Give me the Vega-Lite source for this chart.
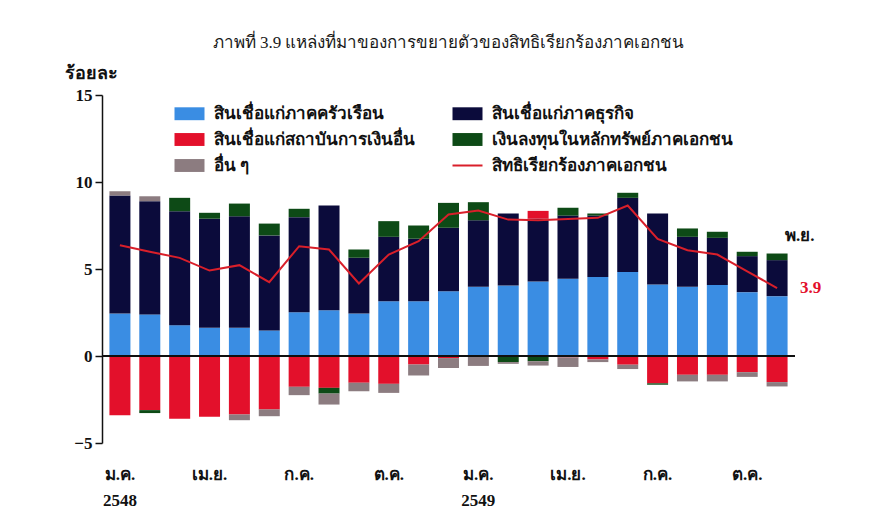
{
  "$schema": "https://vega.github.io/schema/vega-lite/v6.json",
  "width": 693,
  "height": 348,
  "autosize": "none",
  "padding": {"left": 102, "top": 95, "right": 75, "bottom": 85},
  "background": "white",
  "title": {
    "text": "ภาพที่ 3.9  แหล่งที่มาของการขยายตัวของสิทธิเรียกร้องภาคเอกชน",
    "fontSize": 17,
    "fontWeight": "normal",
    "font": "Liberation Serif",
    "color": "#1a1a1a",
    "anchor": "middle",
    "frame": "group",
    "offset": 12
  },
  "config": {"view": {"stroke": null}},
  "data": {
    "values": [
      {"month": "2548-01", "hh": 2.44, "biz": 6.78, "fi": -3.40, "sec": 0, "oth": 0.25, "claims": 6.37},
      {"month": "2548-02", "hh": 2.39, "biz": 6.51, "fi": -3.11, "sec": -0.17, "oth": 0.28, "claims": 5.99},
      {"month": "2548-03", "hh": 1.77, "biz": 6.55, "fi": -3.61, "sec": 0.77, "oth": 0, "claims": 5.64},
      {"month": "2548-04", "hh": 1.62, "biz": 6.27, "fi": -3.49, "sec": 0.34, "oth": 0, "claims": 4.91},
      {"month": "2548-05", "hh": 1.62, "biz": 6.41, "fi": -3.36, "sec": 0.73, "oth": -0.33, "claims": 5.22},
      {"month": "2548-06", "hh": 1.47, "biz": 5.46, "fi": -3.07, "sec": 0.68, "oth": -0.39, "claims": 4.24},
      {"month": "2548-07", "hh": 2.52, "biz": 5.46, "fi": -1.77, "sec": 0.48, "oth": -0.48, "claims": 6.31},
      {"month": "2548-08", "hh": 2.63, "biz": 6.02, "fi": -1.83, "sec": -0.33, "oth": -0.63, "claims": 6.12},
      {"month": "2548-09", "hh": 2.44, "biz": 3.20, "fi": -1.54, "sec": 0.48, "oth": -0.48, "claims": 4.17},
      {"month": "2548-10", "hh": 3.15, "biz": 3.70, "fi": -1.60, "sec": 0.90, "oth": -0.52, "claims": 5.83},
      {"month": "2548-11", "hh": 3.15, "biz": 3.59, "fi": -0.49, "sec": 0.76, "oth": -0.63, "claims": 6.60},
      {"month": "2548-12", "hh": 3.72, "biz": 3.65, "fi": -0.12, "sec": 1.43, "oth": -0.57, "claims": 8.13},
      {"month": "2549-01", "hh": 3.98, "biz": 3.82, "fi": -0.05, "sec": 1.04, "oth": -0.52, "claims": 8.36},
      {"month": "2549-02", "hh": 4.05, "biz": 4.14, "fi": 0, "sec": -0.35, "oth": -0.10, "claims": 7.84},
      {"month": "2549-03", "hh": 4.28, "biz": 3.61, "fi": 0.45, "sec": -0.30, "oth": -0.25, "claims": 7.80},
      {"month": "2549-04", "hh": 4.44, "biz": 3.63, "fi": -0.08, "sec": 0.45, "oth": -0.55, "claims": 7.88},
      {"month": "2549-05", "hh": 4.54, "biz": 3.53, "fi": -0.20, "sec": 0.12, "oth": -0.15, "claims": 7.94},
      {"month": "2549-06", "hh": 4.83, "biz": 4.26, "fi": -0.50, "sec": 0.29, "oth": -0.25, "claims": 8.65},
      {"month": "2549-07", "hh": 4.11, "biz": 4.08, "fi": -1.57, "sec": -0.08, "oth": 0, "claims": 6.73},
      {"month": "2549-08", "hh": 3.98, "biz": 2.87, "fi": -1.08, "sec": 0.48, "oth": -0.38, "claims": 6.08},
      {"month": "2549-09", "hh": 4.08, "biz": 2.71, "fi": -1.08, "sec": 0.35, "oth": -0.38, "claims": 5.83},
      {"month": "2549-10", "hh": 3.67, "biz": 2.07, "fi": -0.93, "sec": 0.25, "oth": -0.27, "claims": 4.87},
      {"month": "2549-11", "hh": 3.44, "biz": 2.07, "fi": -1.50, "sec": 0.38, "oth": -0.25, "claims": 3.90}
    ]
  },
  "layer": [
    {
      "transform": [
        {"fold": ["hh", "biz", "fi", "sec", "oth"], "as": ["series", "value"]},
        {"filter": "datum.value != 0"},
        {"calculate": "indexof(['hh','biz','fi','sec','oth'], datum.series)", "as": "ord"}
      ],
      "mark": {"type": "bar", "width": 21},
      "encoding": {
        "x": {
          "field": "month",
          "type": "ordinal",
          "scale": {"paddingInner": 0.3, "paddingOuter": 0.25},
          "axis": {
            "title": null,
            "orient": "bottom",
            "domain": false,
            "ticks": false,
            "labelAngle": 0,
            "labelPadding": 23,
            "labelFont": "Liberation Serif",
            "labelFontSize": 17,
            "labelFontWeight": "bold",
            "labelColor": "#111111",
            "labelOverlap": false,
            "labelBound": false,
            "labelLineHeight": 26,
            "labelBaseline": "top",
            "labelExpr": "substring(datum.value,5,7)=='01' ? ['ม.ค.', substring(datum.value,0,4)] : substring(datum.value,5,7)=='04' ? 'เม.ย.' : substring(datum.value,5,7)=='07' ? 'ก.ค.' : substring(datum.value,5,7)=='10' ? 'ต.ค.' : ''"
          }
        },
        "y": {
          "field": "value",
          "type": "quantitative",
          "stack": "zero",
          "title": "ร้อยละ",
          "scale": {"domain": [-5, 15], "nice": false},
          "axis": {
            "values": [-5, 0, 5, 10, 15],
            "grid": false,
            "domainColor": "#111111",
            "domainWidth": 1.5,
            "tickColor": "#111111",
            "tickWidth": 1.5,
            "tickSize": 7,
            "labelFont": "Liberation Serif",
            "labelFontSize": 17,
            "labelFontWeight": "bold",
            "labelColor": "#111111",
            "labelPadding": 3,
            "titleAngle": 0,
            "titleX": -38,
            "titleY": -22,
            "titleAlign": "left",
            "titleBaseline": "middle",
            "titleFont": "Liberation Serif",
            "titleFontSize": 18,
            "titleFontWeight": "bold",
            "titleColor": "#111111"
          }
        },
        "color": {
          "field": "series",
          "type": "nominal",
          "scale": {
            "domain": ["hh", "fi", "oth", "biz", "sec", "claims"],
            "range": ["#3a8de3", "#e3102b", "#8c7c80", "#0b0b3b", "#0d4a16", "#d91f2a"]
          },
          "legend": {
            "title": null,
            "orient": "none",
            "legendX": 79,
            "legendY": 10,
            "columns": 2,
            "columnPadding": 33,
            "rowPadding": 8,
            "padding": 0,
            "symbolSize": 900,
            "labelOffset": 16,
            "labelFont": "Liberation Serif",
            "labelFontSize": 17,
            "labelFontWeight": "bold",
            "labelColor": "#111111",
            "labelLimit": 400,
            "labelExpr": "datum.value=='hh' ? 'สินเชื่อแก่ภาคครัวเรือน' : datum.value=='biz' ? 'สินเชื่อแก่ภาคธุรกิจ' : datum.value=='fi' ? 'สินเชื่อแก่สถาบันการเงินอื่น' : datum.value=='sec' ? 'เงินลงทุนในหลักทรัพย์ภาคเอกชน' : datum.value=='oth' ? 'อื่น ๆ' : 'สิทธิเรียกร้องภาคเอกชน'",
            "encode": {
              "symbols": {
                "update": {
                  "shape": {"signal": "datum.value == 'claims' ? 'stroke' : 'M-1,-0.43H1V0.43H-1Z'"},
                  "fill": {"signal": "datum.value == 'claims' ? 'transparent' : scale('color', datum.value)"},
                  "stroke": {"signal": "scale('color', datum.value)"},
                  "strokeWidth": {"signal": "datum.value == 'claims' ? 2 : 0"},
                  "opacity": {"value": 1}
                }
              }
            }
          }
        },
        "order": {"field": "ord", "type": "quantitative"}
      }
    },
    {
      "mark": {"type": "rule", "color": "#111111", "strokeWidth": 1.5},
      "encoding": {"y": {"datum": 0}}
    },
    {
      "mark": {"type": "line", "strokeWidth": 2},
      "encoding": {
        "x": {"field": "month", "type": "ordinal"},
        "y": {"field": "claims", "type": "quantitative", "title": "ร้อยละ"},
        "color": {"datum": "claims"}
      }
    },
    {
      "data": {"values": [{"month": "2549-11", "v": 3.9, "label": "3.9"}]},
      "mark": {"type": "text", "align": "left", "baseline": "middle", "dx": 23, "font": "Liberation Serif", "fontSize": 17, "fontWeight": "bold", "color": "#e3102b"},
      "encoding": {
        "x": {"field": "month", "type": "ordinal"},
        "y": {"field": "v", "type": "quantitative", "title": "ร้อยละ"},
        "text": {"field": "label"}
      }
    },
    {
      "data": {"values": [{"month": "2549-11", "v": 6.87, "label": "พ.ย."}]},
      "mark": {"type": "text", "align": "left", "baseline": "middle", "dx": 8, "font": "Liberation Serif", "fontSize": 17, "fontWeight": "bold", "color": "#111111"},
      "encoding": {
        "x": {"field": "month", "type": "ordinal"},
        "y": {"field": "v", "type": "quantitative", "title": "ร้อยละ"},
        "text": {"field": "label"}
      }
    }
  ]
}
